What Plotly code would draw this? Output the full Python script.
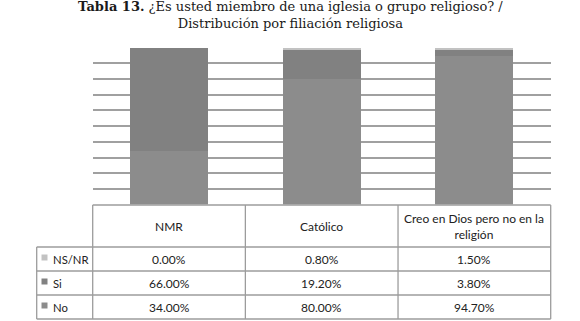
import plotly.graph_objects as go

# ---- data ----
categories = ["NMR", "Católico", "Creo en Dios pero no en la religión"]
header_labels = ["NMR", "Católico", "Creo en Dios pero no en la<br>religión"]
series_names = ["NS/NR", "Si", "No"]          # table row order
ns_nr = [0.00, 0.80, 1.50]
si = [66.00, 19.20, 3.80]
no = [34.00, 80.00, 94.70]
title_text = ("<b>Tabla 13.</b> ¿Es usted miembro de una iglesia o grupo religioso? /"
              "<br>Distribución por filiación religiosa")

# ---- styles ----
W, H = 580, 321
colors = {"NS/NR": "#c2c2c2", "Si": "#818181", "No": "#8c8c8c"}
grid_col = "#a0a0a0"
line_col = "#9c9c9c"
txt_col = "#222222"
table_font = "Lato, Carlito, 'Open Sans', sans-serif"

plot_left, plot_right = 92.7, 550.7
plot_top, plot_bottom = 47.7, 204.6

def py(p):  # pixel y -> paper y
    return 1 - p / H

fig = go.Figure()
values = {"NS/NR": ns_nr, "Si": si, "No": no}
for name in ["No", "Si", "NS/NR"]:
    fig.add_trace(go.Bar(
        x=categories, y=values[name], name=name,
        marker=dict(color=colors[name], line=dict(width=0)),
        showlegend=False, hoverinfo="skip"))

# ---- table (drawn with shapes/annotations aligned with x axis domain) ----
ncol = len(categories)
leg_left = (36.7 - plot_left) / (plot_right - plot_left)
col_edges = [i / ncol for i in range(ncol + 1)]
header_top, header_bot = 205.0, 247.0
row_h = 24.0
row_edges = [header_bot + i * row_h for i in range(len(series_names) + 1)]

shapes = []
lw = 1.3
# horizontal lines
shapes.append(dict(type="line", xref="x domain", yref="paper",
                   x0=0, x1=1, y0=py(header_top), y1=py(header_top),
                   line=dict(color=line_col, width=lw)))
for ry in row_edges:
    shapes.append(dict(type="line", xref="x domain", yref="paper",
                       x0=leg_left, x1=1, y0=py(ry), y1=py(ry),
                       line=dict(color=line_col, width=lw)))
# vertical lines
shapes.append(dict(type="line", xref="x domain", yref="paper",
                   x0=leg_left, x1=leg_left, y0=py(row_edges[0]), y1=py(row_edges[-1]),
                   line=dict(color=line_col, width=lw)))
for cx in col_edges:
    shapes.append(dict(type="line", xref="x domain", yref="paper",
                       x0=cx, x1=cx, y0=py(header_top), y1=py(row_edges[-1]),
                       line=dict(color=line_col, width=lw)))

annotations = []
# header labels
for i, lab in enumerate(header_labels):
    annotations.append(dict(
        x=(col_edges[i] + col_edges[i + 1]) / 2, xref="x domain",
        y=py((header_top + header_bot) / 2), yref="paper",
        text=lab, showarrow=False, xanchor="center", yanchor="middle",
        font=dict(family=table_font, size=12, color=txt_col)))

px_w = plot_right - plot_left
for r, name in enumerate(series_names):
    yc = (row_edges[r] + row_edges[r + 1]) / 2
    # legend square
    sx0 = (41.5 - plot_left) / px_w
    sx1 = (47.5 - plot_left) / px_w
    shapes.append(dict(type="rect", xref="x domain", yref="paper",
                       x0=sx0, x1=sx1, y0=py(yc - 4.5), y1=py(yc + 1.5),
                       fillcolor=colors[name], line=dict(width=0)))
    annotations.append(dict(
        x=(51.0 - plot_left) / px_w, xref="x domain", y=py(yc), yref="paper",
        text=name, showarrow=False, xanchor="left", yanchor="middle",
        font=dict(family=table_font, size=11.3, color=txt_col)))
    for i in range(ncol):
        annotations.append(dict(
            x=(col_edges[i] + col_edges[i + 1]) / 2, xref="x domain",
            y=py(yc), yref="paper",
            text=f"{values[name][i]:.2f}%", showarrow=False,
            xanchor="center", yanchor="middle",
            font=dict(family=table_font, size=12, color=txt_col)))

# title
annotations.append(dict(
    x=0.5, xref="paper", y=py(15.0), yref="paper", text=title_text,
    showarrow=False, xanchor="center", yanchor="middle",
    font=dict(family="DejaVu Serif, serif", size=13, color="#1a1a1a")))

fig.update_layout(
    width=W, height=H,
    margin=dict(l=0, r=0, t=0, b=0),
    paper_bgcolor="white", plot_bgcolor="white",
    barmode="stack", bargap=0.49,
    shapes=shapes, annotations=annotations,
    xaxis=dict(domain=[plot_left / W, plot_right / W], type="category",
               range=[-0.5, 2.5], showticklabels=False, showgrid=False,
               zeroline=False, showline=False, ticks="", fixedrange=True),
    yaxis=dict(domain=[py(plot_bottom), py(plot_top)], range=[0, 100],
               dtick=10, showgrid=True, gridcolor=grid_col, gridwidth=1.5,
               showticklabels=False, zeroline=False, showline=False, ticks="",
               fixedrange=True),
)

fig.write_html("out.html", config={"displayModeBar": False},
               post_script="document.body.style.margin='0';document.body.style.overflow='hidden';")
